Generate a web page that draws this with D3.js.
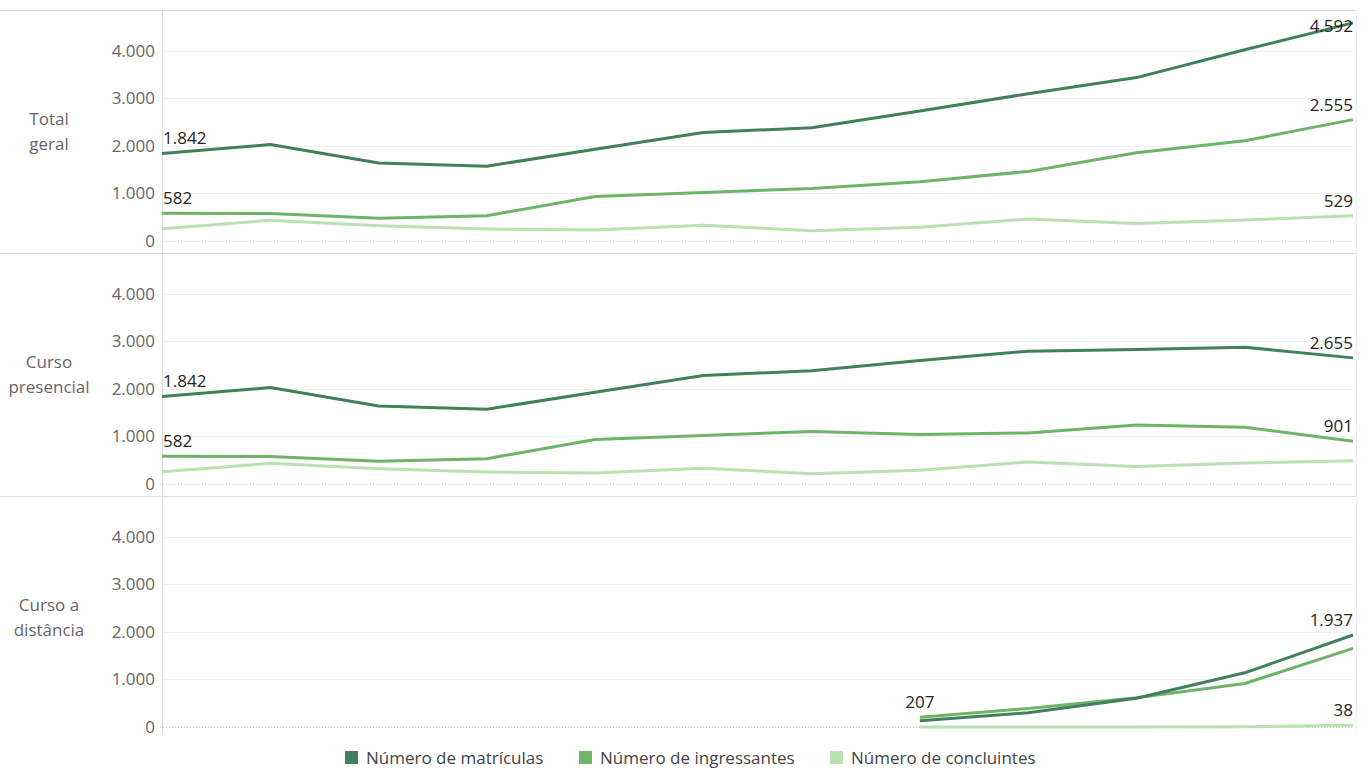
<!DOCTYPE html>
<html>
<head>
<meta charset="utf-8">
<script src="https://cdn.jsdelivr.net/npm/d3@7"></script>
<style>
  body { margin: 0; background: #fff; }
  text { font-family: "Open Sans", "Noto Sans", sans-serif; }
</style>
</head>
<body>
<div id="chart"></div>
<script>
const width = 1370, height = 771;

// data
const years = ["2010", "2011", "2012", "2013", "2014", "2015", "2016", "2017", "2018", "2019", "2020", "2021"];
const seriesNames = ["Número de matrículas", "Número de ingressantes", "Número de concluintes"];
const panelNames = [["Total", "geral"], ["Curso", "presencial"], ["Curso a", "distância"]];

const totalMatriculas = [1842, 2030, 1640, 1575, 1930, 2282, 2385, 2735, 3100, 3440, 4025, 4592];
const totalIngressantes = [582, 580, 478, 533, 935, 1020, 1105, 1247, 1465, 1857, 2110, 2555];
const totalConcluintes = [260, 435, 323, 253, 232, 330, 215, 290, 462, 370, 444, 529];

const presMatriculas = [1842, 2030, 1640, 1575, 1930, 2282, 2385, 2600, 2795, 2830, 2880, 2655];
const presIngressantes = [582, 580, 478, 533, 935, 1020, 1105, 1040, 1075, 1242, 1195, 901];
const presConcluintes = [260, 435, 323, 253, 232, 330, 215, 290, 462, 370, 440, 491];

const distMatriculas = [null, null, null, null, null, null, null, 130, 300, 604, 1140, 1937];
const distIngressantes = [null, null, null, null, null, null, null, 207, 390, 615, 915, 1654];
const distConcluintes = [null, null, null, null, null, null, null, 0, 0, 0, 4, 38];

const yTicks = [0, 1000, 2000, 3000, 4000];

// which points get a data label: [series, point index]
const panelLabels = [
  [[0, 0], [1, 0], [0, 11], [1, 11], [2, 11]],
  [[0, 0], [1, 0], [0, 11], [1, 11]],
  [[1, 7], [0, 11], [2, 11]]
];

const panels = [
  [totalMatriculas, totalIngressantes, totalConcluintes],
  [presMatriculas, presIngressantes, presConcluintes],
  [distMatriculas, distIngressantes, distConcluintes]
];

const colors = ["#41805a", "#6db468", "#b8e2b0"];

const locale = d3.formatLocale({decimal: ",", thousands: ".", grouping: [3], currency: ["R$", ""]});
const fmt = locale.format(",.0f");

const left = 162, right = 1353;
const panelTop = 10, panelH = 243;

const svg = d3.select("#chart")
  .append("svg")
  .attr("width", width)
  .attr("height", height);

const x = d3.scalePoint()
  .domain(years)
  .range([left, right]);

// frame
const frame = svg.append("g").attr("stroke", "#dcdcdc").attr("stroke-width", 1);
[0, 1, 2].forEach(i => {
  frame.append("line")
    .attr("x1", 0).attr("x2", right + 3)
    .attr("y1", panelTop + i * panelH + 0.5).attr("y2", panelTop + i * panelH + 0.5);
});
frame.append("line")
  .attr("x1", left + 0.5).attr("x2", left + 0.5)
  .attr("y1", panelTop).attr("y2", panelTop + 3 * panelH - 6);
frame.append("line")
  .attr("stroke", "#eeeeee")
  .attr("x1", right + 3.5).attr("x2", right + 3.5)
  .attr("y1", panelTop).attr("y2", panelTop + 3 * panelH - 6);

panels.forEach((series, p) => {
  const top = panelTop + p * panelH;
  const y = d3.scaleLinear()
    .domain([-253, 4863])
    .range([top + panelH, top]);

  const g = svg.append("g");

  // grid
  g.selectAll(".grid")
    .data(yTicks.filter(t => t > 0))
    .join("line")
    .attr("x1", left + 1).attr("x2", right)
    .attr("y1", d => Math.round(y(d)) + 0.5).attr("y2", d => Math.round(y(d)) + 0.5)
    .attr("stroke", "#f0f0f0");
  g.append("line")
    .attr("x1", left + 1).attr("x2", right)
    .attr("y1", Math.round(y(0)) + 0.5).attr("y2", Math.round(y(0)) + 0.5)
    .attr("stroke", "#c4c4c4")
    .attr("stroke-dasharray", "1,2");

  // axis
  const axis = g.append("g")
    .attr("transform", `translate(${left - 7},0)`)
    .call(d3.axisLeft(y).tickValues(yTicks).tickFormat(fmt).tickSize(0).tickPadding(0));
  axis.select(".domain").remove();
  axis.selectAll("text")
    .attr("fill", "#666")
    .style("font-size", "17px");

  // panel title
  g.append("text")
    .attr("x", 49)
    .attr("y", top + panelH / 2 - 12)
    .attr("text-anchor", "middle")
    .attr("fill", "#666")
    .style("font-size", "17px")
    .selectAll("tspan")
    .data(panelNames[p])
    .join("tspan")
    .attr("x", 49)
    .attr("dy", (d, i) => i == 0 ? "0.35em" : "1.45em")
    .text(d => d);

  const line = d3.line()
    .defined(d => d != null)
    .x((d, i) => x(years[i]))
    .y(d => y(d));

  // light first, dark last
  [2, 1, 0].forEach(s => {
    g.append("path")
      .datum(series[s])
      .attr("fill", "none")
      .attr("stroke", colors[s])
      .attr("stroke-width", 3)
      .attr("stroke-linejoin", "round")
      .attr("d", line);
  });

  // data labels
  const labels = g.selectAll(".lbl")
    .data(panelLabels[p])
    .join("text")
    .attr("fill", "#252423")
    .style("font-size", "17px")
    .text(d => fmt(series[d[0]][d[1]]))
    .attr("y", d => Math.max(y(series[d[0]][d[1]]) - 9, top + 22));
  labels.each(function (d) {
    const w = this.getComputedTextLength();
    let cx = x(years[d[1]]) - w / 2;
    cx = Math.max(left + 1, Math.min(right - w, cx));
    d3.select(this).attr("x", cx);
  });
});

// legend
const legendX = [345, 579, 830];
const legend = svg.append("g")
  .selectAll("g")
  .data(seriesNames)
  .join("g")
  .attr("transform", (d, i) => `translate(${legendX[i]},751)`);
legend.append("rect")
  .attr("width", 13).attr("height", 13)
  .attr("fill", (d, i) => colors[i]);
legend.append("text")
  .attr("x", 21)
  .attr("y", 7)
  .attr("dy", "0.35em")
  .attr("fill", "#444")
  .style("font-size", "17px")
  .text(d => d);
</script>
</body>
</html>
